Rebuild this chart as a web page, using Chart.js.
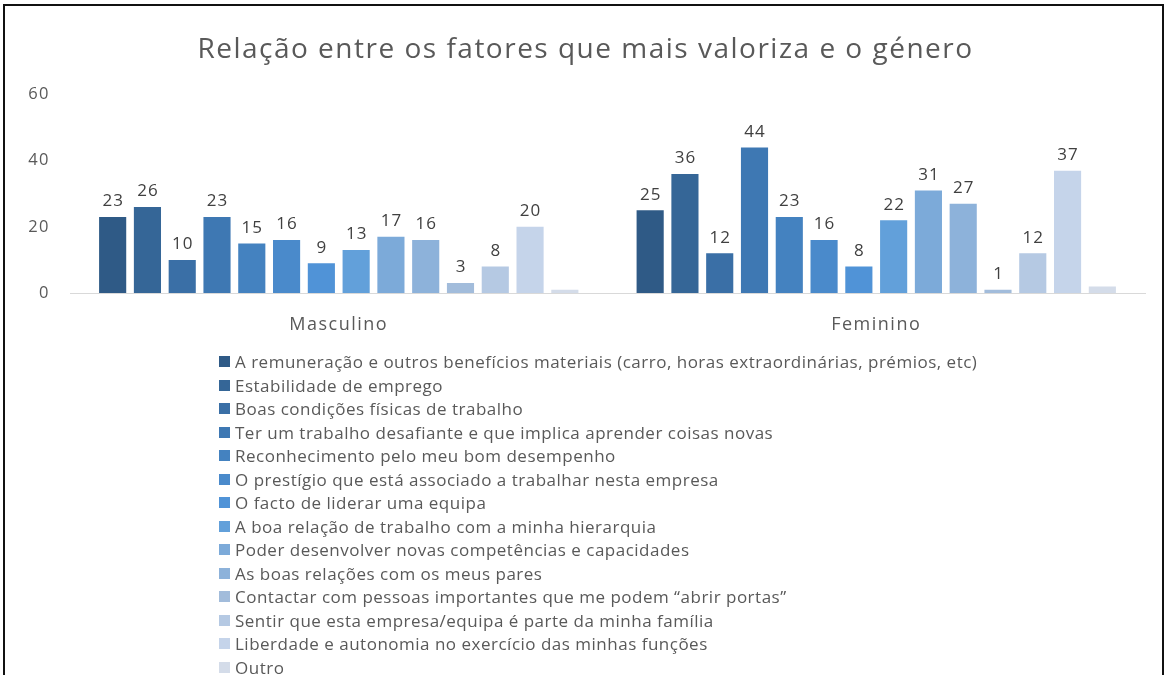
<!DOCTYPE html>
<html>
<head>
<meta charset="utf-8">
<script src="https://cdn.jsdelivr.net/npm/chart.js@4.4.1/dist/chart.umd.min.js"></script>
<style>
  html, body { margin: 0; padding: 0; background: #fff; }
  #wrap { position: relative; width: 1171px; height: 675px; overflow: hidden; }
  #frame { position: absolute; left: 3px; top: 4px; width: 1161px; height: 700px;
           border-left: 2px solid #111; border-top: 2px solid #111; border-right: 2px solid #111; box-sizing: border-box; }
  canvas { position: absolute; left: 0; top: 0; }
  #legend { position: absolute; left: 219px; top: 350px; font-family: "Open Sans", sans-serif;
            font-size: 17px; color: #595959; letter-spacing: 0.5px; }
  #legend .item { height: 23.5px; line-height: 23.5px; white-space: nowrap; display: flex; align-items: center; }
  #legend .box { width: 11px; height: 11px; margin-right: 5px; flex: none; }
</style>
</head>
<body>
<div id="wrap">
  <canvas id="c" width="1171" height="675"></canvas>
  <div id="frame"></div>
  <div id="legend"></div>
</div>
<script>
const titleText = "Relação entre os fatores que mais valoriza e o género";
const categories = ["Masculino", "Feminino"];
const seriesNames = [
  "A remuneração e outros benefícios materiais (carro, horas extraordinárias, prémios, etc)",
  "Estabilidade de emprego",
  "Boas condições físicas de trabalho",
  "Ter um trabalho desafiante e que implica aprender coisas novas",
  "Reconhecimento pelo meu bom desempenho",
  "O prestígio que está associado a trabalhar nesta empresa",
  "O facto de liderar uma equipa",
  "A boa relação de trabalho com a minha hierarquia",
  "Poder desenvolver novas competências e capacidades",
  "As boas relações com os meus pares",
  "Contactar com pessoas importantes que me podem \u201cabrir portas\u201d",
  "Sentir que esta empresa/equipa é parte da minha família",
  "Liberdade e autonomia no exercício das minhas funções",
  "Outro"
];
const masculinoValues = [23, 26, 10, 23, 15, 16, 9, 13, 17, 16, 3, 8, 20, 1];
const femininoValues  = [25, 36, 12, 44, 23, 16, 8, 22, 31, 27, 1, 12, 37, 2];
const yTicks = [0, 20, 40, 60];
const unlabeledSeries = ["Outro"];

const seriesColors = [
  "#2F5A86", "#356697", "#3A6FA6", "#3E78B3", "#4482C0", "#4A8ACB",
  "#5093D7", "#62A0DA", "#7CAAD9", "#8DB2DA", "#A2BCDB", "#B5C9E3",
  "#C5D4EA", "#D4DCE9"
];

const datasets = seriesNames.map((name, i) => ({
  label: name,
  data: [masculinoValues[i], femininoValues[i]],
  backgroundColor: seriesColors[i],
  borderWidth: 0,
  categoryPercentage: 0.906,
  barPercentage: 0.78
}));

const spacing = {
  id: 'spacing',
  beforeDraw(chart) { chart.ctx.letterSpacing = '1.5px'; }
};

const valueLabels = {
  id: 'valueLabels',
  afterDatasetsDraw(chart) {
    const ctx = chart.ctx;
    ctx.save();
    ctx.letterSpacing = '1px';
    ctx.font = '17px "Open Sans", sans-serif';
    ctx.fillStyle = '#404040';
    ctx.textAlign = 'center';
    ctx.textBaseline = 'bottom';
    chart.data.datasets.forEach((ds, di) => {
      if (unlabeledSeries.includes(ds.label)) return;
      const meta = chart.getDatasetMeta(di);
      meta.data.forEach((bar, j) => {
        ctx.fillText(String(ds.data[j]), bar.x + 0.5, bar.y - 7);
      });
    });
    ctx.restore();
  }
};

const chart = new Chart(document.getElementById('c'), {
  type: 'bar',
  data: { labels: categories, datasets },
  options: {
    responsive: false,
    animation: false,
    layout: { padding: { left: 26, right: 26, top: 0, bottom: 0 } },
    plugins: {
      legend: { display: false },
      tooltip: { enabled: false },
      title: {
        display: true,
        text: titleText,
        color: '#595959',
        font: { family: '"Open Sans", sans-serif', size: 28, weight: 'normal' },
        padding: { top: 33, bottom: 28 }
      }
    },
    scales: {
      x: {
        grid: { display: false, drawTicks: false },
        border: { display: true, color: '#D9D9D9', width: 1 },
        ticks: { color: '#595959', font: { family: '"Open Sans", sans-serif', size: 18 }, padding: 21 },
        afterFit(scale) { scale.height = 382; }
      },
      y: {
        min: 0, max: 60,
        afterBuildTicks(scale) { scale.ticks = yTicks.map(v => ({ value: v })); },
        grid: { display: false, drawTicks: false },
        border: { display: false },
        ticks: { color: '#595959', font: { family: '"Open Sans", sans-serif', size: 16.5 }, padding: 20 },
        afterFit(scale) { scale.width = 44; }
      }
    }
  },
  plugins: [spacing, valueLabels]
});

const legendEl = document.getElementById('legend');
seriesNames.forEach((name, i) => {
  const item = document.createElement('div');
  item.className = 'item';
  const box = document.createElement('span');
  box.className = 'box';
  box.style.background = seriesColors[i];
  const txt = document.createElement('span');
  txt.textContent = name;
  item.appendChild(box);
  item.appendChild(txt);
  legendEl.appendChild(item);
});
</script>
</body>
</html>
